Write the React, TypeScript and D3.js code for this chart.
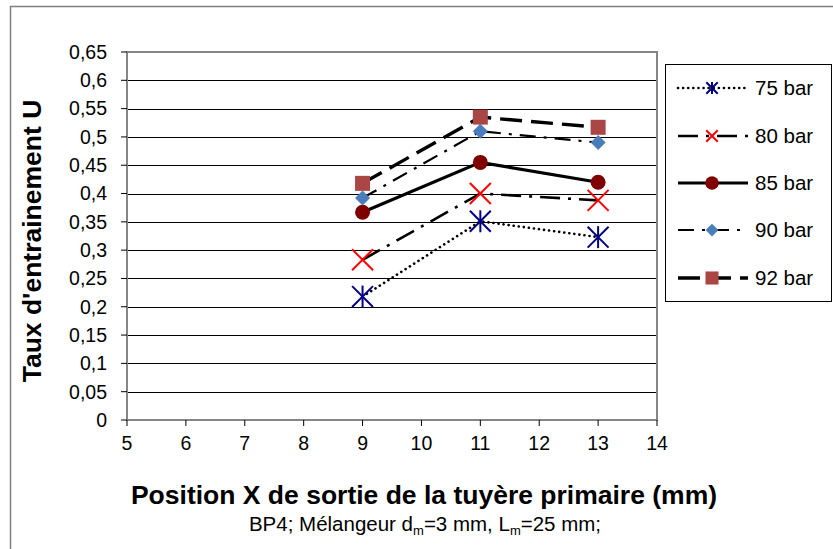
import React from "react";
import * as d3 from "d3";

const xValues = [9, 11, 13];
const seriesNames = ["75 bar", "80 bar", "85 bar", "90 bar", "92 bar"];
const u75 = [0.218, 0.351, 0.323];
const u80 = [0.283, 0.4, 0.388];
const u85 = [0.367, 0.455, 0.42];
const u90 = [0.392, 0.51, 0.49];
const u92 = [0.418, 0.535, 0.517];
const yTickValues = [0, 0.05, 0.1, 0.15, 0.2, 0.25, 0.3, 0.35, 0.4, 0.45, 0.5, 0.55, 0.6, 0.65];
const xTickValues = [5, 6, 7, 8, 9, 10, 11, 12, 13, 14];

const FONT = "'Liberation Sans', Arial, sans-serif";

type Style = { dash: string; width: number; cap: "round" | "butt"; marker: string; color: string };
const styles: Style[] = [
  { dash: "0.1 5", width: 2.6, cap: "round", marker: "asterisk", color: "#000080" },
  { dash: "20 8 3 8", width: 2.6, cap: "butt", marker: "x", color: "#ff0000" },
  { dash: "", width: 3.2, cap: "butt", marker: "circle", color: "#800000" },
  { dash: "16 8 3 8", width: 2.2, cap: "butt", marker: "diamond", color: "#4a7ebb" },
  { dash: "22 9", width: 3.4, cap: "butt", marker: "square", color: "#aa4643" },
];

function Marker({ type, color, x, y, s = 1 }: { type: string; color: string; x: number; y: number; s?: number }) {
  if (type === "asterisk") {
    const r = 11 * s;
    const d = r * 0.95;
    return (
      <g stroke={color} strokeWidth={2}>
        <line x1={x} y1={y - r} x2={x} y2={y + r} />
        <line x1={x - d} y1={y - d} x2={x + d} y2={y + d} />
        <line x1={x - d} y1={y + d} x2={x + d} y2={y - d} />
      </g>
    );
  }
  if (type === "x") {
    const d = 10.5 * s;
    return (
      <g stroke={color} strokeWidth={2}>
        <line x1={x - d} y1={y - d} x2={x + d} y2={y + d} />
        <line x1={x - d} y1={y + d} x2={x + d} y2={y - d} />
      </g>
    );
  }
  if (type === "circle") return <circle cx={x} cy={y} r={7.5 * Math.max(s, 0.9)} fill={color} />;
  if (type === "diamond") {
    const r = 7.5 * Math.max(s, 0.85);
    return <path d={`M${x},${y - r}L${x + r},${y}L${x},${y + r}L${x - r},${y}Z`} fill={color} />;
  }
  const h = 7.5 * Math.max(s, 0.87);
  return <rect x={x - h} y={y - h} width={2 * h} height={2 * h} fill={color} />;
}

export default function App() {
  const W = 833;
  const H = 549;
  const left = 127;
  const right = 657;
  const top = 52;
  const bottom = 420;
  const x = d3.scaleLinear().domain([5, 14]).range([left, right]);
  const y = d3.scaleLinear().domain([0, 0.65]).range([bottom, top]);
  const data = [u75, u80, u85, u90, u92];
  const line = d3
    .line<number>()
    .x((_, i) => x(xValues[i]))
    .y((d) => y(d));
  const fmt = (v: number) => String(+v.toFixed(2)).replace(".", ",");

  const legX = 665;
  const legY = 64;
  const legRows = [88, 136, 183, 230, 278];

  return (
    <svg width={W} height={H} style={{ position: "absolute", left: 0, top: 0 }} fontFamily={FONT}>
      <rect x={0} y={0} width={W} height={H} fill="#fff" />
      <rect x={10.5} y={6.5} width={W + 20} height={H + 20} fill="none" stroke="#808080" strokeWidth={1.5} />

      {/* gridlines */}
      {yTickValues.slice(1, -1).map((v) => (
        <line key={v} x1={left} x2={right} y1={Math.round(y(v)) + 0.5} y2={Math.round(y(v)) + 0.5} stroke="#000" strokeWidth={1} />
      ))}
      <rect x={left} y={top} width={right - left} height={bottom - top} fill="none" stroke="#868686" strokeWidth={2} />

      {/* y ticks */}
      {yTickValues.map((v) => (
        <g key={v}>
          <line x1={left - 6} x2={left} y1={y(v)} y2={y(v)} stroke="#000" strokeWidth={1} />
          <text x={107} y={y(v)} dy="0.35em" textAnchor="end" fontSize={19.5} fill="#000">
            {fmt(v)}
          </text>
        </g>
      ))}
      {/* x ticks */}
      {xTickValues.map((v) => (
        <g key={v}>
          <line x1={x(v)} x2={x(v)} y1={bottom} y2={bottom + 6} stroke="#000" strokeWidth={1} />
          <text x={x(v)} y={450} textAnchor="middle" fontSize={19.5} fill="#000">
            {v}
          </text>
        </g>
      ))}

      {/* series lines */}
      {data.map((s, i) => (
        <path
          key={i}
          d={line(s) || ""}
          fill="none"
          stroke="#000"
          strokeWidth={styles[i].width}
          strokeDasharray={styles[i].dash || undefined}
          strokeLinecap={styles[i].cap}
        />
      ))}
      {data.map((s, i) =>
        s.map((v, j) => <Marker key={`${i}-${j}`} type={styles[i].marker} color={styles[i].color} x={x(xValues[j])} y={y(v)} />)
      )}

      {/* axis titles */}
      <text transform="translate(41,241) rotate(-90)" textAnchor="middle" fontSize={26.5} fontWeight="bold" fill="#000">
        Taux d'entrainement U
      </text>
      <text x={424} y={504} textAnchor="middle" fontSize={26.5} fontWeight="bold" fill="#000">
        Position X de sortie de la tuyère primaire (mm)
      </text>
      <text x={425} y={531} textAnchor="middle" fontSize={20.5} fill="#000">
        BP4; Mélangeur d<tspan fontSize={13} dy={4}>m</tspan>
        <tspan dy={-4}>=3 mm, L</tspan>
        <tspan fontSize={13} dy={4}>m</tspan>
        <tspan dy={-4}>=25 mm;</tspan>
      </text>

      {/* legend */}
      <rect x={legX + 0.5} y={legY + 0.5} width={166} height={237} fill="#fff" stroke="#000" strokeWidth={1} />
      {seriesNames.map((name, i) => (
        <g key={name}>
          <line
            x1={678}
            x2={748}
            y1={legRows[i]}
            y2={legRows[i]}
            stroke="#000"
            strokeWidth={styles[i].width}
            strokeDasharray={styles[i].dash || undefined}
            strokeLinecap={styles[i].cap}
          />
          <Marker type={styles[i].marker} color={styles[i].color} x={712} y={legRows[i]} s={0.55} />
          <text x={755} y={legRows[i]} dy="0.35em" fontSize={20.5} fill="#000">
            {name}
          </text>
        </g>
      ))}
    </svg>
  );
}
